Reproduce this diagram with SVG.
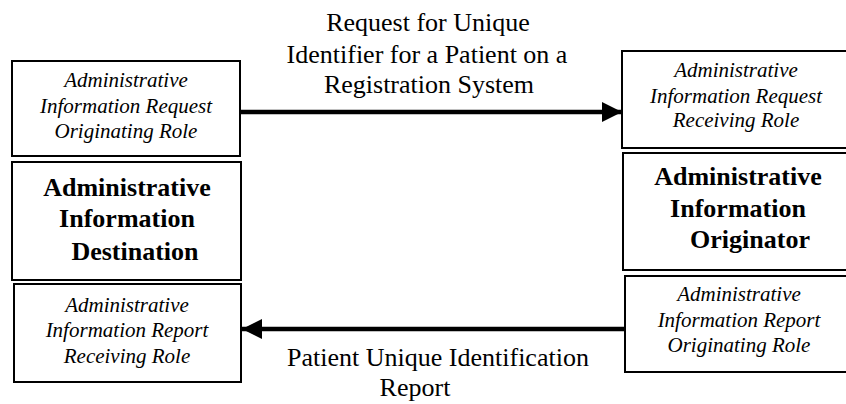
<svg xmlns="http://www.w3.org/2000/svg" width="846" height="404" viewBox="0 0 846 404">
<style>
.box{fill:#fff;stroke:#000;stroke-width:2}
.it{font-family:"Liberation Serif","Times New Roman",serif;font-style:italic;font-size:21px;text-anchor:middle;fill:#000}
.bd{font-family:"Liberation Serif","Times New Roman",serif;font-weight:bold;font-size:26px;text-anchor:middle;fill:#000}
.lb{font-family:"Liberation Serif","Times New Roman",serif;font-size:26px;text-anchor:middle;fill:#000}
.conn{stroke:#000;stroke-width:4.5;fill:none}
</style>
<defs>
<marker id="ah" markerUnits="userSpaceOnUse" markerWidth="22" markerHeight="22" refX="20" refY="10" orient="auto">
<path d="M0,0 L20,10 L0,20 Z" fill="#000"/>
</marker>
</defs>
<rect width="846" height="404" fill="#fff"/>
<g id="req-orig">
<rect class="box" x="12" y="61" width="228" height="95"/>
<text class="it" x="126" y="87">Administrative</text>
<text class="it" x="126" y="113">Information Request</text>
<text class="it" x="126" y="138">Originating Role</text>
</g>
<g id="dest">
<rect class="box" x="12" y="162" width="229" height="118"/>
<text class="bd" x="127" y="196">Administrative</text>
<text class="bd" x="127" y="227">Information</text>
<text class="bd" x="135" y="260">Destination</text>
</g>
<g id="rep-recv">
<rect class="box" x="14" y="284" width="227" height="98"/>
<text class="it" x="127" y="312">Administrative</text>
<text class="it" x="127" y="337">Information Report</text>
<text class="it" x="127" y="363">Receiving Role</text>
</g>
<g id="req-recv">
<rect class="box" x="622" y="51" width="230" height="97"/>
<text class="it" x="736" y="77">Administrative</text>
<text class="it" x="736" y="103">Information Request</text>
<text class="it" x="736" y="127">Receiving Role</text>
</g>
<g id="orig">
<rect class="box" x="623" y="153" width="229" height="117"/>
<text class="bd" x="738" y="185">Administrative</text>
<text class="bd" x="738" y="217">Information</text>
<text class="bd" x="750" y="248">Originator</text>
</g>
<g id="rep-orig">
<rect class="box" x="625" y="276" width="227" height="96"/>
<text class="it" x="739" y="301">Administrative</text>
<text class="it" x="739" y="327">Information Report</text>
<text class="it" x="739" y="352">Originating Role</text>
</g>
<g id="connectors">
<line class="conn" x1="240" y1="112" x2="622" y2="112" marker-end="url(#ah)"/>
<line class="conn" x1="625" y1="329" x2="242" y2="329" marker-end="url(#ah)"/>
<text class="lb" x="428" y="31">Request for Unique</text>
<text class="lb" x="427" y="63">Identifier for a Patient on a</text>
<text class="lb" x="429" y="93">Registration System</text>
<text class="lb" x="438" y="366">Patient Unique Identification</text>
<text class="lb" x="415" y="396">Report</text>
</g>
</svg>
